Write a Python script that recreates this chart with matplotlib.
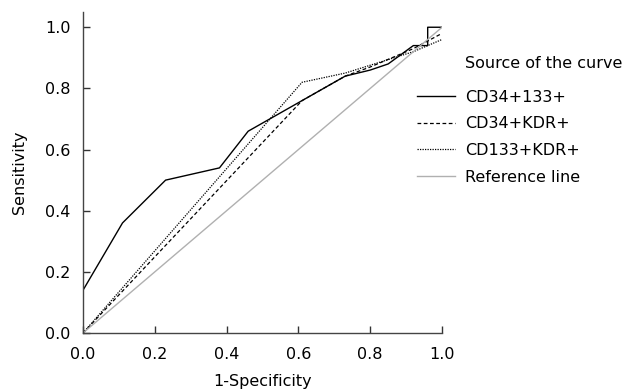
import matplotlib
matplotlib.use("Agg")
import matplotlib.pyplot as plt

# Data
cd34_133_x = [0.0, 0.0, 0.11, 0.23, 0.38, 0.46, 0.61, 0.73, 0.80, 0.85, 0.92, 0.96, 0.96, 1.0]
cd34_133_y = [0.0, 0.14, 0.36, 0.50, 0.54, 0.66, 0.76, 0.84, 0.86, 0.88, 0.94, 0.94, 1.0, 1.0]

cd34_kdr_x = [0.0, 0.61, 0.73, 0.80, 0.92, 1.0]
cd34_kdr_y = [0.0, 0.76, 0.84, 0.87, 0.93, 0.98]

cd133_kdr_x = [0.0, 0.61, 0.73, 0.92, 1.0]
cd133_kdr_y = [0.0, 0.82, 0.85, 0.92, 0.96]

ref_x = [0.0, 1.0]
ref_y = [0.0, 1.0]

labels = ["CD34+133+", "CD34+KDR+", "CD133+KDR+", "Reference line"]
legend_title = "Source of the curve"
xticks = [0.0, 0.2, 0.4, 0.6, 0.8, 1.0]
yticks = [0.0, 0.2, 0.4, 0.6, 0.8, 1.0]

plt.rcParams['font.family'] = ['DejaVu Sans']
fig = plt.figure(figsize=(6.28, 3.92), dpi=100)
ax = fig.add_axes([0.1322, 0.1505, 0.5717, 0.819])

l1, = ax.plot(cd34_133_x, cd34_133_y, color='black', lw=1.0, linestyle='-')
l2, = ax.plot(cd34_kdr_x, cd34_kdr_y, color='black', lw=0.9, linestyle=(0, (3, 2)))
l3, = ax.plot(cd133_kdr_x, cd133_kdr_y, color='black', lw=0.9, linestyle=(0, (1, 1)))
l4, = ax.plot(ref_x, ref_y, color='#b0b0b0', lw=1.0, linestyle='-')

ax.set_xlim(0, 1.0)
ax.set_ylim(0, 1.05)
ax.set_xticks(xticks)
ax.set_yticks(yticks)
ax.set_xticklabels([f"{t:.1f}" for t in xticks], fontsize=11.5)
ax.set_yticklabels([f"{t:.1f}" for t in yticks], fontsize=11.5)
ax.tick_params(axis='x', direction='in', length=5, width=1, colors='#333333', labelcolor='black', pad=10)
ax.tick_params(axis='y', direction='in', length=5, width=1, colors='#333333', labelcolor='black', pad=9)
ax.spines['top'].set_visible(False)
ax.spines['right'].set_visible(False)
for s in ['left', 'bottom']:
    ax.spines[s].set_color('#444444')
    ax.spines[s].set_linewidth(1.0)
ax.set_xlabel("1-Specificity", fontsize=11.5, labelpad=9)
ax.set_ylabel("Sensitivity", fontsize=11.5, labelpad=13)

fig.text(465/628, 1 - 63/392, legend_title, fontsize=11.5, ha='left', va='center')
leg = fig.legend([l1, l2, l3, l4], labels, loc='upper left',
                 bbox_to_anchor=(417/628, 1 - 90/392), frameon=False,
                 fontsize=11.5, borderpad=0, borderaxespad=0,
                 handlelength=2.4, handletextpad=0.6, labelspacing=0.72)

fig.savefig("out.png", dpi=100)
